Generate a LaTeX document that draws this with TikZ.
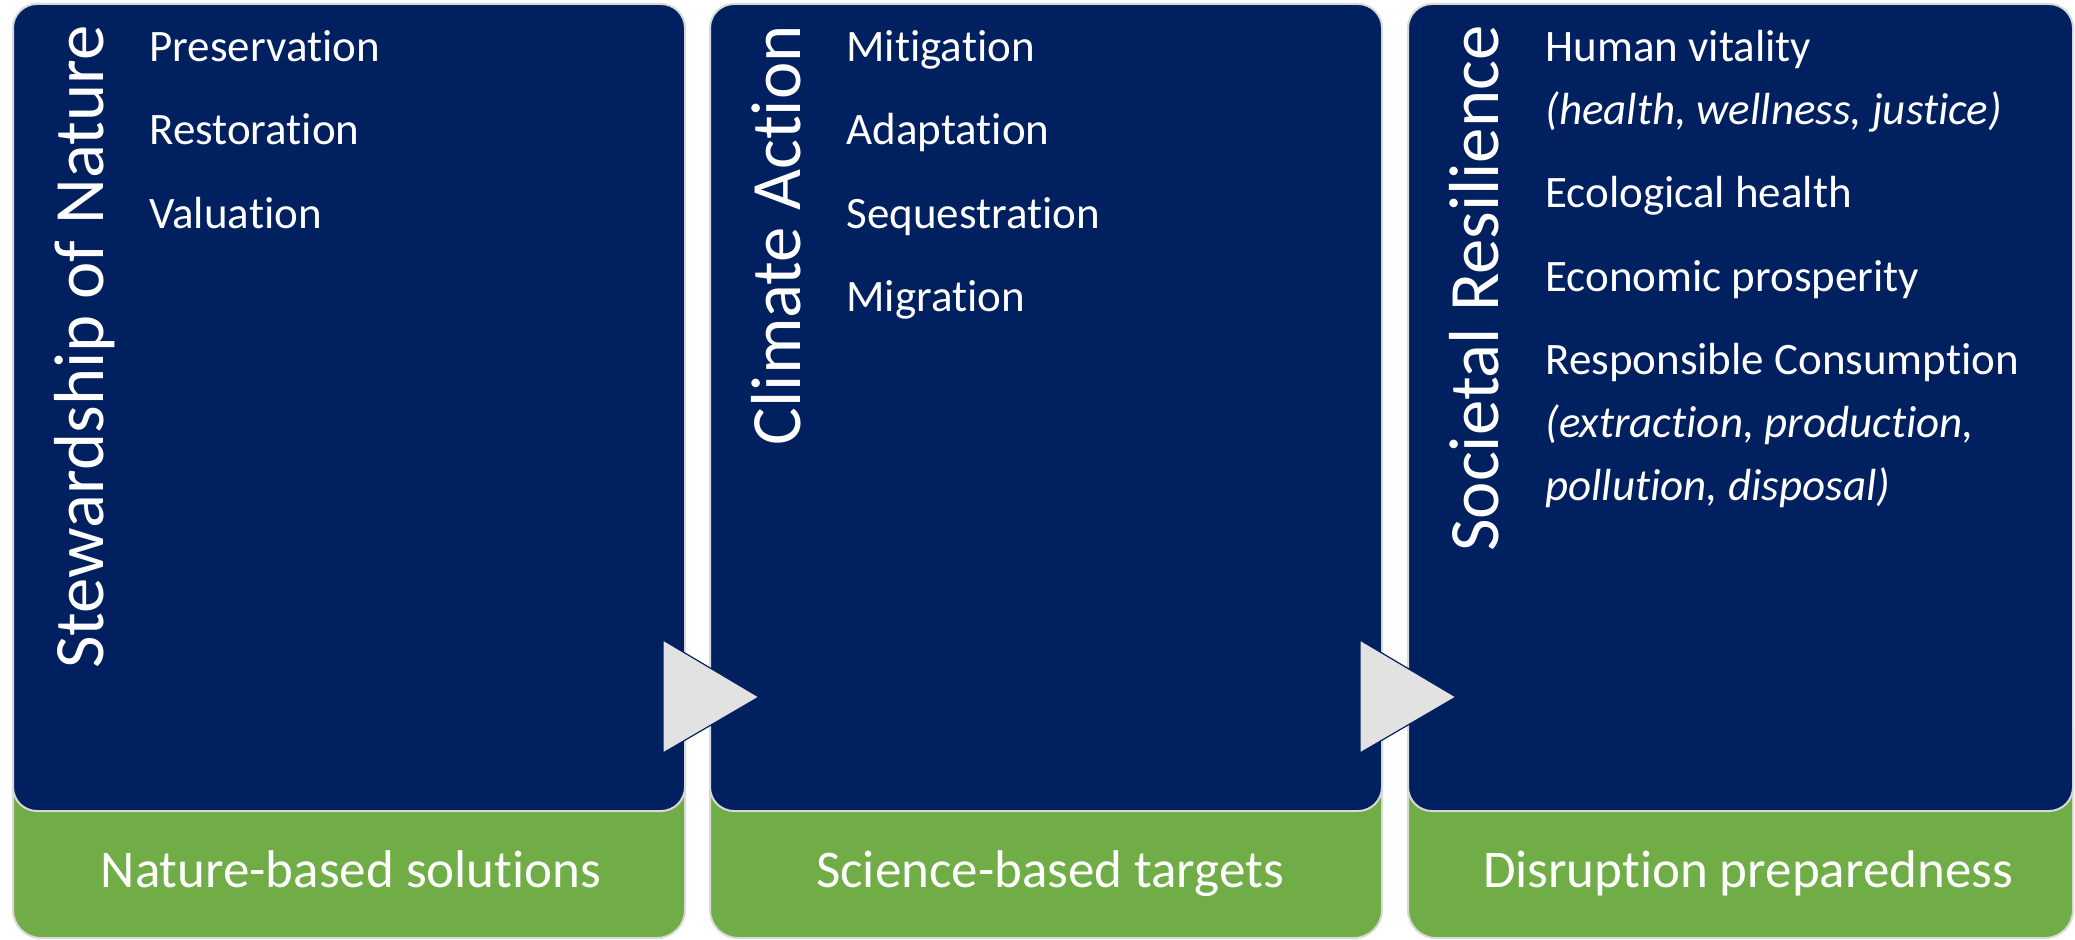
\documentclass[tikz,border=0pt]{standalone}
\usepackage{fontspec}
\setmainfont{Carlito}[Ligatures={NoCommon}]
\definecolor{navy}{HTML}{002060}
\definecolor{leaf}{HTML}{70AD47}
\definecolor{chevgray}{HTML}{E2E2E2}
\begin{document}
\begin{tikzpicture}[
  panel/.style={fill=navy,draw=gray!30,line width=1pt,rounded corners=12pt},
  footbox/.style={fill=leaf,draw=gray!30,line width=1pt,rounded corners=14pt},
  heading/.style={text=white,rotate=90,anchor=base east,inner sep=0pt,font=\fontsize{35.4pt}{40pt}\selectfont},
  entry/.style={text=white,anchor=base west,inner sep=0pt,font=\fontsize{22.5pt}{27pt}\selectfont},
  footer/.style={text=white,anchor=base,inner sep=0pt,font=\fontsize{26.5pt}{30pt}\selectfont},
  chevron/.style={fill=chevgray,draw=navy,line width=0.6pt}]
\useasboundingbox (0pt,0pt) rectangle (1037.5pt,469.5pt);
% green bases
\draw[footbox] (6.5pt,0.5pt) rectangle (342.5pt,119.5pt);
\draw[footbox] (355pt,0.5pt) rectangle (691pt,119.5pt);
\draw[footbox] (704pt,0.5pt) rectangle (1036.5pt,119.5pt);
% blue panels
\draw[panel] (6.5pt,64pt) rectangle (342.5pt,467.5pt);
\draw[panel] (355pt,64pt) rectangle (691pt,467.5pt);
\draw[panel] (704pt,64pt) rectangle (1036.5pt,467.5pt);
% chevrons
\draw[chevron] (331.5pt,149.5pt) -- (379.5pt,121pt) -- (331.5pt,93pt) -- cycle;
\draw[chevron] (680pt,149.5pt) -- (728pt,121pt) -- (680pt,93pt) -- cycle;
% headings
\node[heading] (nature) at (51.5pt,457pt) {Stewardship of Nature};
\node[heading] (climate) at (400pt,457pt) {Climate Action};
\node[heading] (society) at (749pt,457pt) {Societal Resilience};
% first column
\node[entry] (preserve) at (74.5pt,438.5pt) {Preservation};
\node[entry] (restore) at (74.5pt,397pt) {Restoration};
\node[entry] (value) at (74.5pt,355.5pt) {Valuation};
% second column
\node[entry] (mitigate) at (423pt,438.5pt) {Mitigation};
\node[entry] (adapt) at (423pt,397pt) {Adaptation};
\node[entry] (sequester) at (423pt,355.5pt) {Sequestration};
\node[entry] (migrate) at (423pt,314pt) {Migration};
% third column
\node[entry] (vital) at (772.5pt,438.5pt) {Human vitality};
\node[entry] (vitalsub) at (772.5pt,407pt) {\itshape (health, wellness, justice)};
\node[entry] (ecohealth) at (772.5pt,365.5pt) {Ecological health};
\node[entry] (prosper) at (772.5pt,324pt) {Economic prosperity};
\node[entry] (consume) at (772.5pt,282.5pt) {Responsible Consumption};
\node[entry] (consumesub) at (772.5pt,251pt) {\itshape (extraction, production,};
\node[entry] (consumesubb) at (772.5pt,219.5pt) {\itshape pollution, disposal)};
% footers
\node[footer] (nbs) at (175.5pt,26pt) {Nature-based solutions};
\node[footer] (sbt) at (525pt,26pt) {Science-based targets};
\node[footer] (prep) at (874pt,26pt) {Disruption preparedness};
\end{tikzpicture}
\end{document}
